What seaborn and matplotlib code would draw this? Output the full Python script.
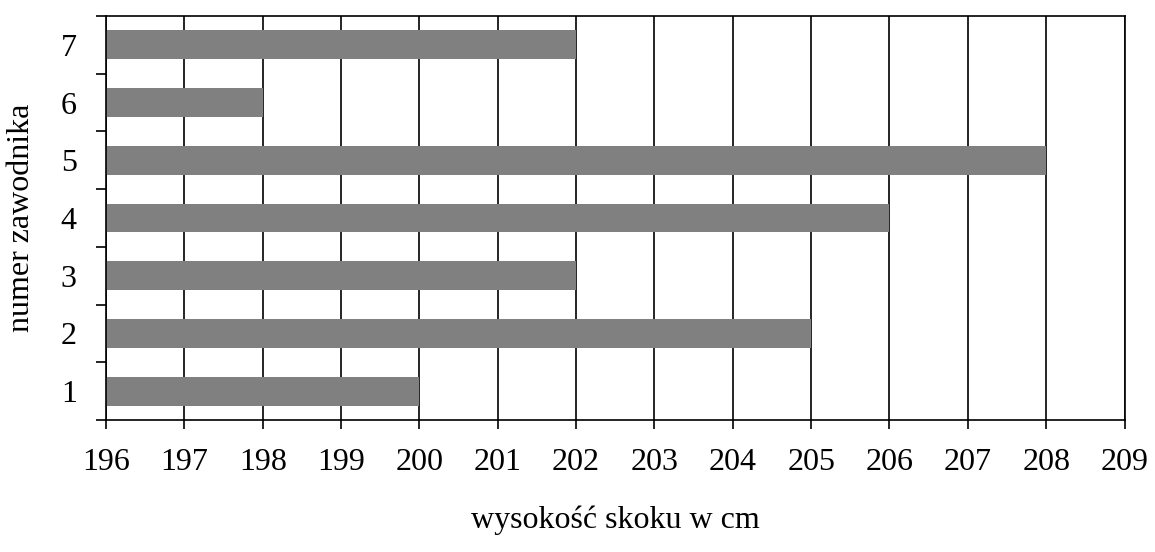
import seaborn as sns
import matplotlib.pyplot as plt
import pandas as pd
from matplotlib.ticker import FixedLocator

# Data
zawodnik = ["7", "6", "5", "4", "3", "2", "1"]
wysokosc = [202, 198, 208, 206, 202, 205, 200]
x_ticks = list(range(196, 210))

data = pd.DataFrame({"zawodnik": zawodnik, "wysokosc": wysokosc})

sns.set_style("white")
plt.rcParams["font.family"] = ["Liberation Serif", "DejaVu Serif"]
plt.rcParams.update({"text.color": "black", "axes.labelcolor": "black",
                     "xtick.color": "black", "ytick.color": "black"})

fig = plt.figure(figsize=(11.55, 5.52), dpi=100)
ax = fig.add_axes([0.0918, 0.2391, 0.8818, 0.7319])

sns.barplot(data=data, x="wysokosc", y="zawodnik", order=zawodnik, orient="h",
            color="#808080", saturation=1, width=0.5, errorbar=None,
            linewidth=0, ax=ax)

ax.set_xlim(196, 209)
ax.set_ylim(6.5, -0.5)
ax.set_xticks(x_ticks)
ax.set_xticklabels([str(t) for t in x_ticks], fontsize=23)
ax.tick_params(axis="x", bottom=True, direction="out", length=6.5, width=1.2,
               color="black", labelcolor="black", pad=14)

# y: labels at categories, ticks at the band boundaries
ax.tick_params(axis="y", which="major", left=True, length=0, labelsize=23,
               labelcolor="black", pad=21)
ax.yaxis.set_minor_locator(FixedLocator([i - 0.5 for i in range(len(zawodnik) + 1)]))
ax.tick_params(axis="y", which="minor", left=True, direction="out", length=7,
               width=1.2, color="black")

ax.set_axisbelow(True)
ax.grid(axis="x", color="black", linewidth=1.2)
ax.grid(axis="y", visible=False)
for s in ax.spines.values():
    s.set_color("black")
    s.set_linewidth(1.2)

ax.set_xlabel("wysokość skoku w cm", fontsize=23, labelpad=20, color="black")
ax.set_ylabel("numer zawodnika", fontsize=23, labelpad=18, color="black")

fig.savefig("out.png", dpi=100)
